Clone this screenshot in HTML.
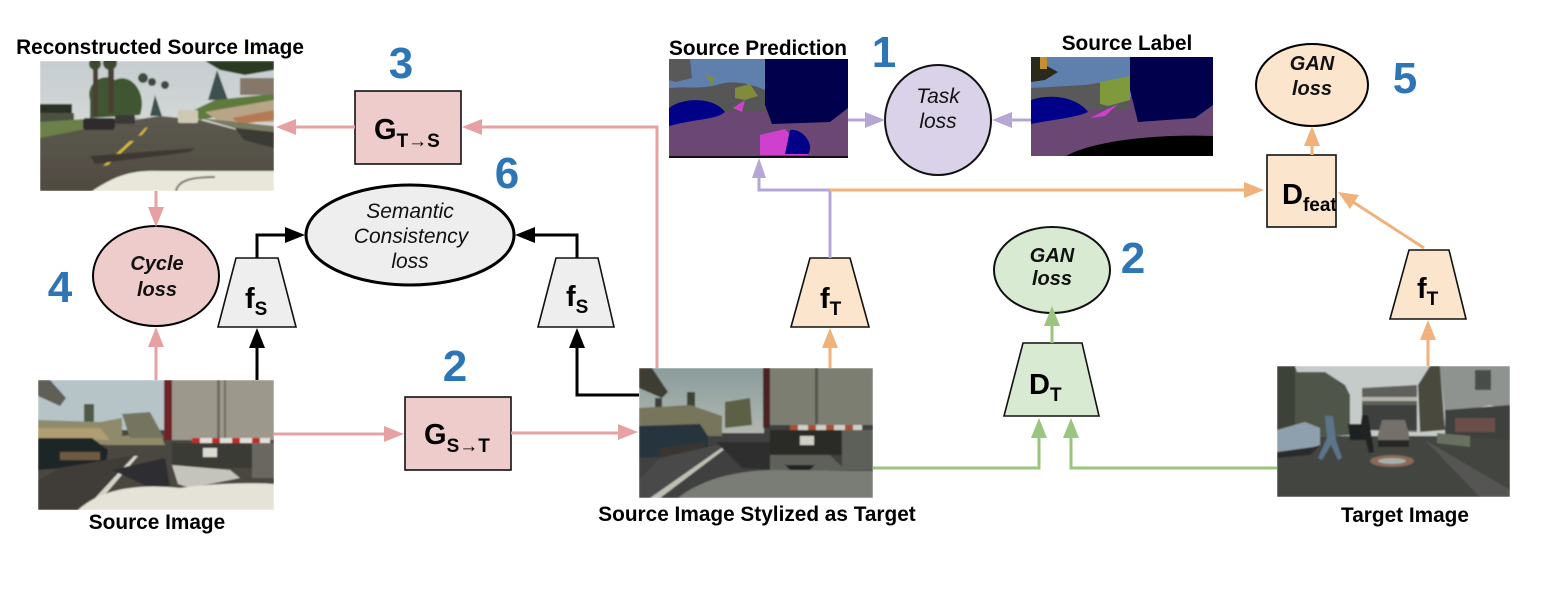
<!DOCTYPE html>
<html><head><meta charset="utf-8"><style>
html,body{margin:0;padding:0;background:#fff;width:1552px;height:596px;overflow:hidden}
svg{display:block}
.l{font:bold 20.8px "Liberation Sans",sans-serif;fill:#000;text-anchor:middle}
.n{font:bold 44px "Liberation Sans",sans-serif;fill:#2e75b6;text-anchor:middle}
.i{font:italic 21px "Liberation Sans",sans-serif;fill:#111;text-anchor:middle}
.ib{font:italic bold 20px "Liberation Sans",sans-serif;fill:#111;text-anchor:middle}
.b{font:bold 29px "Liberation Sans",sans-serif;fill:#000}
.s{font:bold 19px "Liberation Sans",sans-serif;fill:#000}
</style></head><body>
<svg width="1552" height="596" viewBox="0 0 1552 596" xmlns="http://www.w3.org/2000/svg">
<defs>
<filter id="bl" x="-5%" y="-5%" width="110%" height="110%"><feGaussianBlur stdDeviation="0.7"/></filter>
<linearGradient id="sky1" x1="0" y1="0" x2="0" y2="1"><stop offset="0" stop-color="#c6cdd0"/><stop offset="1" stop-color="#e2e2dc"/></linearGradient>
<linearGradient id="road1" x1="0" y1="0" x2="0" y2="1"><stop offset="0" stop-color="#5c5950"/><stop offset="1" stop-color="#4f4a40"/></linearGradient>
<linearGradient id="sky2" x1="0" y1="0" x2="0" y2="1"><stop offset="0" stop-color="#8a9c9c"/><stop offset="1" stop-color="#b0b8b0"/></linearGradient>
<clipPath id="c1"><rect x="40" y="61" width="234" height="130"/></clipPath>
<clipPath id="c2"><rect x="38" y="380" width="236" height="130"/></clipPath>
<clipPath id="c3"><rect x="639" y="368" width="234" height="130"/></clipPath>
<clipPath id="c4"><rect x="1277" y="366" width="233" height="131"/></clipPath>
<clipPath id="c5"><rect x="669" y="59" width="179" height="99"/></clipPath>
<clipPath id="c6"><rect x="1031" y="57" width="182" height="99"/></clipPath>
</defs>

<!-- Reconstructed source image -->
<g clip-path="url(#c1)"><g filter="url(#bl)">
<rect x="40" y="61" width="234" height="130" fill="url(#sky1)"/>
<path d="M90 100 C85 82 105 72 115 80 C130 72 148 92 140 115 L90 118Z" fill="#3f5530"/>
<rect x="93" y="61" width="5" height="55" fill="#4a4030"/><rect x="108" y="61" width="6" height="52" fill="#4a4030"/>
<circle cx="95" cy="64" r="6" fill="#3c4a2e"/><circle cx="110" cy="63" r="7" fill="#3c4a2e"/>
<circle cx="143" cy="78" r="5" fill="#3e4c40"/><circle cx="152" cy="82" r="4" fill="#3e4c40"/><circle cx="165" cy="85" r="4" fill="#3e4c40"/>
<path d="M150 116 L155 95 L162 116Z" fill="#3e5050"/>
<path d="M40 104 H72 V113 H40Z" fill="#2c3026"/><rect x="40" y="113" width="34" height="10" fill="#4c5240"/>
<path d="M205 61 L274 61 L274 70 L245 75 L220 70Z" fill="#2c3a20"/>
<path d="M208 100 L217 70 L228 100Z" fill="#3e5050"/>
<rect x="240" y="78" width="34" height="17" fill="#85786a"/>
<path d="M190 112 L215 100 L274 94 L274 105 L200 120Z" fill="#5f7a3c"/>
<path d="M205 112 L274 100 L274 122 L220 122Z" fill="#b8a588"/>
<path d="M232 118 L274 110 L274 120 L240 124Z" fill="#b57a52"/>
<path d="M40 134 L160 116 L200 120 L274 140 L274 191 L40 191Z" fill="url(#road1)"/>
<path d="M40 122 L100 118 L140 118 L40 138Z" fill="#6c8048"/>
<path d="M200 118 L274 126 L274 140 Z" fill="#7a7a60"/>
<rect x="83" y="118" width="32" height="12" rx="3" fill="#2e2c2e"/>
<rect x="178" y="110" width="20" height="13" rx="2" fill="#cfc8b4"/>
<rect x="115" y="115" width="20" height="9" rx="2" fill="#3a3838"/>
<path d="M103 166 L108 165 L134 141 L130 141Z" fill="#d6bb3a"/>
<path d="M138 136 L142 135 L148 127 L145 128Z" fill="#d6bb3a"/>
<path d="M90 156 L195 148 L190 152 L95 164Z" fill="#3c3932"/>
<path d="M235 128 L274 132 L274 148 L244 140Z" fill="#3a3a34"/>
<path d="M92 191 C115 176 130 170 160 171 L274 171 L274 191Z" fill="#e9e7da"/>
<path d="M176 191 C178 181 190 177 215 177" fill="none" stroke="#77766a" stroke-width="2"/>
</g></g>

<!-- Source image -->
<g clip-path="url(#c2)"><g filter="url(#bl)">
<rect x="38" y="380" width="236" height="130" fill="#4a4640"/>
<rect x="38" y="380" width="128" height="50" fill="#b6c4c8"/>
<path d="M38 380 L50 380 L66 398 L60 406 L38 396Z" fill="#5e5f58"/>
<path d="M84 404 L94 404 L94 428 L84 428Z" fill="#50584a"/>
<path d="M38 420 L100 422 L122 418 L122 436 L160 432 L165 445 L108 445 L38 440Z" fill="#8f8a6a"/>
<path d="M122 414 L150 412 L164 438 L130 438Z" fill="#75755e"/>
<path d="M38 428 L100 428 L110 440 L38 438Z" fill="#b09d72"/>
<path d="M38 438 H92 L108 450 L106 462 L90 466 L38 470Z" fill="#1f2528"/>
<rect x="60" y="452" width="40" height="8" fill="#6e5a40"/>
<path d="M38 480 L60 468 L130 456 L136 456 L84 510 L38 510Z" fill="#3f3c38"/>
<path d="M84 510 L134 456 L138 456 L92 510Z" fill="#d6d4c8"/>
<path d="M112 470 L165 458 L170 486 L150 488Z" fill="#2e2e30"/>
<rect x="164" y="380" width="110" height="60" fill="#9c988c"/>
<rect x="164" y="380" width="8" height="60" fill="#702428"/>
<rect x="217" y="380" width="3" height="58" fill="#6e6a62"/>
<rect x="224" y="380" width="2" height="58" fill="#6e6a62"/>
<rect x="192" y="438" width="78" height="5" fill="#e2e0dc"/>
<path d="M192 438 h8v5h-8zM212 438h8v5h-8zM232 438h8v5h-8zM252 438h8v5h-8z" fill="#c02a28"/>
<rect x="172" y="443" width="80" height="25" fill="#3a3a34"/>
<rect x="203" y="448" width="14" height="9" fill="#dddad0"/>
<rect x="252" y="443" width="22" height="35" fill="#6a6660"/>
<path d="M172 465 L230 470 L240 478 L190 488 L178 484Z" fill="#c4c4bc"/>
<path d="M78 510 C100 490 135 483 180 488 C205 484 250 482 274 484 L274 510Z" fill="#e5e3d8"/>
</g></g>

<!-- Stylized image -->
<g clip-path="url(#c3)"><g filter="url(#bl)">
<rect x="639" y="368" width="234" height="130" fill="#3f4040"/>
<rect x="639" y="368" width="125" height="65" fill="url(#sky2)"/>
<path d="M639 368 L652 368 L668 392 L662 398 L639 388Z" fill="#3e3e30"/>
<path d="M655 398 H662 V415 H655Z" fill="#3a4038"/>
<path d="M687 392 L695 392 L695 412 L687 412Z" fill="#3e4436"/>
<path d="M725 402 L750 398 L752 425 L725 428Z" fill="#5c6044"/>
<path d="M639 408 L690 405 L722 416 L722 436 L639 436Z" fill="#77755c"/>
<path d="M639 426 L700 424 L708 436 L708 448 L690 455 L639 458Z" fill="#25343c"/>
<path d="M660 448 L705 442 L705 450 L690 456 L660 458Z" fill="#3a3430"/>
<path d="M639 480 L660 458 L730 442 L660 498 L639 498Z" fill="#4a4a48"/>
<path d="M650 498 L730 442 L734 442 L660 498Z" fill="#bfc0b4"/>
<path d="M716 442 H770 L770 470 L742 468Z" fill="#2f2f2e"/>
<rect x="763" y="368" width="110" height="57" fill="#7c7e72"/>
<rect x="763" y="368" width="7" height="60" fill="#4a2020"/>
<rect x="815" y="368" width="3" height="56" fill="#55564e"/>
<rect x="790" y="425" width="72" height="5" fill="#d0cfc8"/>
<path d="M790 425 h8v5h-8zM808 425h8v5h-8zM826 425h8v5h-8zM845 425h8v5h-8z" fill="#a85030"/>
<rect x="770" y="430" width="72" height="25" fill="#2c2c28"/>
<rect x="800" y="436" width="14" height="9" fill="#cfcfc4"/>
<rect x="842" y="430" width="31" height="40" fill="#5c6058"/>
<path d="M770 455 L830 455 L845 470 L770 472Z" fill="#5e605a"/>
<path d="M785 465 H815 L810 470 H790Z" fill="#222"/>
<path d="M678 498 C700 480 735 471 770 470 L873 471 L873 498Z" fill="#7a7d74"/>
</g></g>

<!-- Target image -->
<g clip-path="url(#c4)"><g filter="url(#bl)">
<rect x="1277" y="366" width="233" height="131" fill="#424440"/>
<rect x="1277" y="366" width="233" height="70" fill="#c5cbc8"/>
<path d="M1277 366 L1295 366 L1297 372 L1325 372 L1345 385 L1350 395 L1350 435 L1277 440Z" fill="#50544a"/>
<path d="M1277 366 H1295 V432 L1277 438Z" fill="#3c4238"/>
<path d="M1362 388 L1417 385 L1417 432 L1362 430Z" fill="#5e605c"/>
<rect x="1362" y="397" width="55" height="4" fill="#b5b5a8"/>
<path d="M1362 405 H1417 V430 H1362Z" fill="#3e3f3c"/>
<path d="M1418 385 L1430 366 L1440 366 L1445 430 L1420 432Z" fill="#4a4a3c"/>
<path d="M1440 366 H1510 V410 L1490 405 L1445 415Z" fill="#8f9390"/>
<rect x="1475" y="370" width="16" height="20" fill="#4a4e48"/>
<path d="M1445 410 L1510 405 V440 L1445 435Z" fill="#3e403c"/>
<path d="M1277 430 L1305 422 L1320 428 L1320 445 L1305 450 L1277 452Z" fill="#8ea0ae"/>
<path d="M1277 452 L1320 446 L1310 455 L1277 458Z" fill="#2a2c2c"/>
<path d="M1348 424 H1368 V440 H1350Z" fill="#1e2022"/>
<path d="M1382 420 H1405 L1409 434 V447 H1378 V434Z" fill="#74706a"/>
<rect x="1378" y="440" width="31" height="7" fill="#272727"/>
<path d="M1325 416 L1333 416 L1336 440 L1342 458 L1338 460 L1331 445 L1322 460 L1318 458 L1327 438Z" fill="#5c7488"/>
<path d="M1362 415 L1368 415 L1372 438 L1374 452 L1369 453 L1365 438L1360 430Z" fill="#222"/>
<path d="M1437 433 L1470 436 V447 L1437 443Z" fill="#6a7060"/>
<rect x="1455" y="418" width="40" height="14" fill="#6a5048"/>
<ellipse cx="1392" cy="461" rx="22" ry="6" fill="#8b6a5a"/>
<ellipse cx="1392" cy="461" rx="14" ry="3" fill="#a6b0aa"/>
<path d="M1425 440 L1510 490 V497 H1480Z" fill="#545752"/>
</g></g>

<!-- Source prediction -->
<g clip-path="url(#c5)">
<rect x="669" y="59" width="179" height="99" fill="#6b4774"/>
<rect x="669" y="59" width="96" height="40" fill="#5f80ac"/>
<path d="M669 59 L690 59 L692 78 L676 82 L669 80Z" fill="#595959"/>
<path d="M669 88 C690 86 700 90 720 84 C740 78 765 90 765 90 V112 H720 L700 106 L669 110Z" fill="#565656"/>
<path d="M705 75 L715 78 L712 85Z" fill="#7f8c3c"/>
<path d="M735 88 L750 84 L758 96 L745 100 L735 98Z" fill="#7f8c3c"/>
<path d="M765 59 H848 V108 L830 122 L772 124 L765 105Z" fill="#00004d"/>
<path d="M669 108 C685 96 715 98 725 112 C715 120 700 118 669 126Z" fill="#000089"/>
<path d="M760 135 L785 129 L808 155 H760Z" fill="#cf41cc"/>
<path d="M790 130 C803 128 815 145 808 154 L785 154Z" fill="#000089"/>
<path d="M733 108 L745 100 L742 112Z" fill="#cf41cc"/>
<rect x="669" y="156" width="179" height="2" fill="#111"/>
</g>

<!-- Source label -->
<g clip-path="url(#c6)">
<rect x="1031" y="57" width="182" height="99" fill="#6b4774"/>
<rect x="1031" y="57" width="100" height="40" fill="#5f80ac"/>
<path d="M1031 57 H1045 V65 L1058 72 L1045 80 L1031 82Z" fill="#2a2a1c"/>
<rect x="1040" y="57" width="7" height="12" fill="#c4902c"/>
<path d="M1031 88 L1085 85 L1130 78 V110 L1031 110Z" fill="#595959"/>
<path d="M1100 82 L1130 76 V100 L1108 106 L1100 104Z" fill="#7f9a3c"/>
<path d="M1031 100 C1055 92 1080 100 1088 112 C1075 118 1050 120 1031 124Z" fill="#000089"/>
<path d="M1130 57 H1213 V105 L1195 118 L1138 122 L1130 90Z" fill="#00004d"/>
<path d="M1066 156 C1095 140 1160 134 1213 136 V156Z" fill="#000"/>
<path d="M1090 118 L1118 104 L1105 116Z" fill="#cf41cc"/>
</g>

<!-- Shapes -->
<rect x="355" y="91" width="106" height="73" fill="#eecccc" stroke="#111" stroke-width="1.6"/>
<rect x="405" y="397" width="106" height="73" fill="#eecccc" stroke="#111" stroke-width="1.6"/>
<rect x="1267" y="155" width="69" height="72" fill="#fce5cd" stroke="#111" stroke-width="1.6"/>
<ellipse cx="410" cy="235" rx="104" ry="50" fill="#eeeeee" stroke="#000" stroke-width="3"/>
<ellipse cx="156" cy="276" rx="63" ry="50" fill="#eecccc" stroke="#000" stroke-width="2"/>
<ellipse cx="938" cy="120" rx="53" ry="55" fill="#d9d2e9" stroke="#111" stroke-width="2"/>
<ellipse cx="1052" cy="270" rx="58" ry="43" fill="#d9ead3" stroke="#111" stroke-width="2"/>
<ellipse cx="1312" cy="85" rx="56" ry="41" fill="#fce5cd" stroke="#000" stroke-width="2"/>
<polygon points="236,258 278,258 296,327 218,327" fill="#eeeeee" stroke="#111" stroke-width="1.6"/>
<polygon points="556,258 598,258 614,327 538,327" fill="#eeeeee" stroke="#111" stroke-width="1.6"/>
<polygon points="810,258 850,258 869,327 791,327" fill="#fce5cd" stroke="#111" stroke-width="1.6"/>
<polygon points="1409,250 1449,250 1466,319 1390,319" fill="#fce5cd" stroke="#111" stroke-width="1.6"/>
<polygon points="1023,343 1082,343 1099,416 1004,416" fill="#d9ead3" stroke="#111" stroke-width="1.6"/>

<!-- Pink connectors -->
<g fill="none" stroke="#e6a1a3" stroke-width="3">
<path d="M355 127 H290"/><path d="M657 368 V127 H476"/><path d="M156 191 V212"/><path d="M156 380 V342"/>
<path d="M274 434 H390"/><path d="M511 433 H624"/>
</g>
<g fill="#e6a1a3">
<polygon points="276,127 296,119 296,135"/><polygon points="462,127 482,119 482,135"/>
<polygon points="156,227 148,207 164,207"/><polygon points="156,327 148,347 164,347"/>
<polygon points="404,434 384,426 384,442"/><polygon points="638,432 618,424 618,440"/>
</g>

<!-- Black connectors -->
<g fill="none" stroke="#000" stroke-width="3">
<path d="M257 258 V235 H290"/><path d="M577 258 V235 H530"/><path d="M257 380 V342"/><path d="M639 395 H577 V342"/>
</g>
<g fill="#000">
<polygon points="305,235 285,227 285,243"/><polygon points="515,235 535,227 535,243"/>
<polygon points="257,328 249,348 265,348"/><polygon points="577,328 569,348 585,348"/>
</g>

<!-- Purple connectors -->
<g fill="none" stroke="#b4a7d6" stroke-width="3">
<path d="M830 258 V190 H759 V172"/><path d="M848 120 H870"/><path d="M1031 120 H1008"/>
</g>
<g fill="#b4a7d6">
<polygon points="759,158 752,178 766,178"/><polygon points="885,120 865,112 865,128"/><polygon points="992,120 1012,112 1012,128"/>
</g>

<!-- Orange connectors -->
<g fill="none" stroke="#f0b27a" stroke-width="3">
<path d="M830 190 H1250"/><path d="M830 368 V342"/><path d="M1312 155 V138"/><path d="M1428 366 V333"/><path d="M1424 248 L1350 200"/>
</g>
<g fill="#f0b27a">
<polygon points="1264,190 1244,182 1244,198"/><polygon points="830,328 822,348 838,348"/>
<polygon points="1312,126 1304,146 1320,146"/><polygon points="1428,320 1420,340 1436,340"/>
<polygon points="1338,192 1359,195 1350,209"/>
</g>

<!-- Green connectors -->
<g fill="none" stroke="#9bc47f" stroke-width="3">
<path d="M873 468 H1039 V432"/><path d="M1277 468 H1071 V432"/><path d="M1052 343 V320"/>
</g>
<g fill="#9bc47f">
<polygon points="1039,418 1031,438 1047,438"/><polygon points="1071,418 1063,438 1079,438"/><polygon points="1052,306 1044,326 1060,326"/>
</g>

<!-- Labels -->
<text class="l" x="160" y="54">Reconstructed Source Image</text>
<text class="l" x="758" y="55">Source Prediction</text>
<text class="l" x="1127" y="50">Source Label</text>
<text class="l" x="157" y="529">Source Image</text>
<text class="l" x="757" y="521">Source Image Stylized as Target</text>
<text class="l" x="1405" y="522">Target Image</text>

<text class="n" x="401" y="78">3</text>
<text class="n" x="507" y="188">6</text>
<text class="n" x="60" y="302">4</text>
<text class="n" x="455" y="381">2</text>
<text class="n" x="884" y="67">1</text>
<text class="n" x="1133" y="273">2</text>
<text class="n" x="1405" y="93">5</text>

<text class="i" x="410" y="218">Semantic</text>
<text class="i" x="411" y="243">Consistency</text>
<text class="i" x="410" y="268">loss</text>
<text class="ib" x="157" y="270">Cycle</text>
<text class="ib" x="157" y="296">loss</text>
<text class="i" x="938" y="103">Task</text>
<text class="i" x="938" y="128">loss</text>
<text class="ib" x="1052" y="262">GAN</text>
<text class="ib" x="1052" y="285">loss</text>
<text class="ib" x="1312" y="70">GAN</text>
<text class="ib" x="1312" y="95">loss</text>

<text class="b" x="374" y="139">G<tspan class="s" dy="8" font-size="19">T→S</tspan></text>
<text class="b" x="424" y="444">G<tspan class="s" dy="8" font-size="19">S→T</tspan></text>
<text class="b" x="1282" y="204">D<tspan class="s" dy="7">feat</tspan></text>
<text class="b" x="1029" y="394">D<tspan class="s" dy="7">T</tspan></text>
<text class="b" x="245" y="308">f<tspan class="s" dy="7">S</tspan></text>
<text class="b" x="566" y="306">f<tspan class="s" dy="7">S</tspan></text>
<text class="b" x="820" y="308">f<tspan class="s" dy="7">T</tspan></text>
<text class="b" x="1417" y="298">f<tspan class="s" dy="7">T</tspan></text>
</svg>
</body></html>
